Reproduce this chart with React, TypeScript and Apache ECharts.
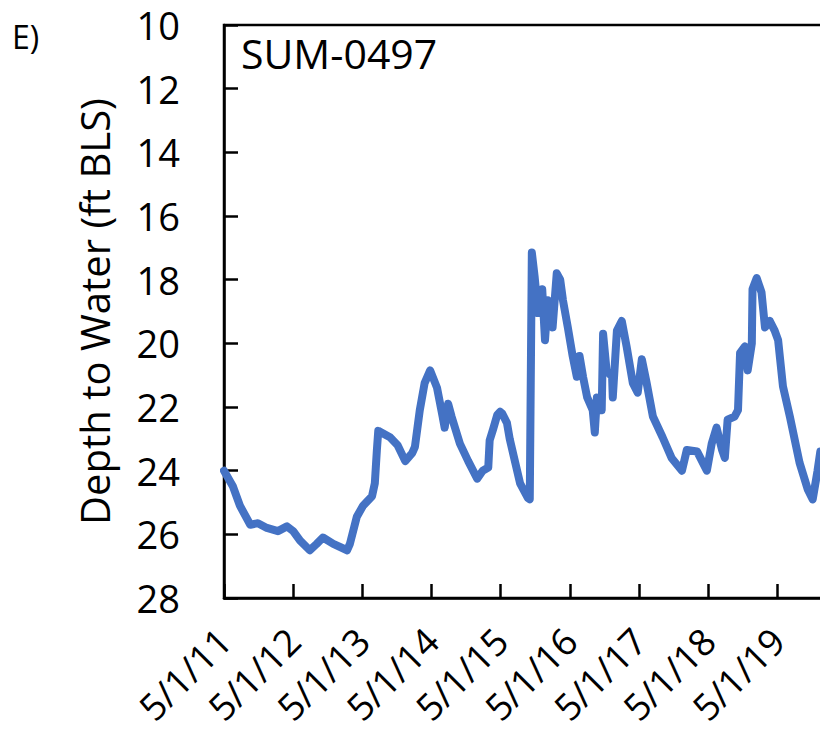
import React, { useEffect, useRef } from "react";
import * as echarts from "echarts";

// x: years since 5/1/2011 ; y: depth to water (ft below land surface)
const yearsSince = [
  0, 0.13, 0.23, 0.38, 0.49, 0.62, 0.78, 0.91, 1.0, 1.1, 1.24, 1.34, 1.43, 1.58, 1.78, 1.82,
  1.92, 2.01, 2.14, 2.18, 2.21, 2.23, 2.4, 2.51, 2.62, 2.72, 2.76, 2.83, 2.9, 2.98, 3.08,
  3.16, 3.19, 3.24, 3.29, 3.41, 3.53, 3.66, 3.74, 3.82, 3.84, 3.89, 3.95, 3.99, 4.02, 4.09,
  4.13, 4.21, 4.28, 4.39, 4.42, 4.45, 4.49, 4.54, 4.6, 4.64, 4.68, 4.75, 4.81, 4.86, 4.9,
  4.97, 5.04, 5.1, 5.14, 5.19, 5.25, 5.33, 5.36, 5.39, 5.46, 5.48, 5.53, 5.61, 5.62, 5.68,
  5.75, 5.82, 5.91, 5.98, 6.04, 6.11, 6.2, 6.34, 6.47, 6.62, 6.69, 6.84, 6.98, 7.05, 7.12,
  7.2, 7.24, 7.28, 7.38, 7.43, 7.46, 7.53, 7.57, 7.63, 7.64, 7.7, 7.77, 7.82, 7.89, 7.96,
  8.01, 8.08, 8.18, 8.32, 8.44, 8.51, 8.58, 8.62,
];
const depthFt = [
  24.0, 24.5, 25.1, 25.7, 25.65, 25.8, 25.9, 25.75, 25.9, 26.2, 26.5, 26.3, 26.1, 26.3, 26.5, 26.3,
  25.45, 25.1, 24.8, 24.4, 23.35, 22.75, 22.95, 23.2, 23.7, 23.45, 23.25, 22.1, 21.25, 20.85, 21.4,
  22.3, 22.65, 21.9, 22.3, 23.15, 23.7, 24.25, 24.0, 23.9, 23.05, 22.7, 22.25, 22.15, 22.2, 22.5,
  23.0, 23.75, 24.4, 24.85, 24.9, 17.15, 17.9, 19.05, 18.3, 19.9, 18.65, 19.5, 17.8, 18.0, 18.65,
  19.5, 20.4, 21.05, 20.4, 21.05, 21.7, 22.1, 22.8, 21.7, 22.1, 19.7, 20.85, 21.05, 21.7, 19.6,
  19.3, 20.1, 21.25, 21.55, 20.5, 21.25, 22.3, 22.95, 23.6, 24.0, 23.35, 23.4, 24.0, 23.15, 22.65,
  23.35, 23.6, 22.4, 22.3, 22.1, 20.3, 20.1, 20.85, 20.0, 18.3, 17.95, 18.4, 19.5, 19.3, 19.6,
  19.9, 21.35, 22.3, 23.75, 24.6, 24.9, 24.0, 23.4,
];
const xTickLabels = ["5/1/11", "5/1/12", "5/1/13", "5/1/14", "5/1/15", "5/1/16", "5/1/17", "5/1/18", "5/1/19"];
const wellName = "SUM-0497";
const panelLabel = "E)";
const yAxisTitle = "Depth to Water (ft BLS)";

const FONT = "'Open Sans', 'Noto Sans', sans-serif";

export default function App() {
  const ref = useRef<HTMLDivElement>(null);
  useEffect(() => {
    if (!ref.current) return;
    const chart = echarts.init(ref.current, undefined, { renderer: "svg" });
    const data = yearsSince.map((x, i) => [x, depthFt[i]]);
    chart.setOption({
      animation: false,
      textStyle: { fontFamily: FONT },
      grid: {
        left: 224,
        top: 25,
        right: 30,
        bottom: 142,
        show: true,
        borderColor: "#000",
        borderWidth: 2.5,
        containLabel: false,
        outerBoundsMode: "none",
      },
      xAxis: {
        type: "value",
        min: 0,
        max: 8.76,
        interval: 1,
        splitLine: { show: false },
        axisLine: { show: true, lineStyle: { color: "#000", width: 2.5 } },
        axisTick: { show: true, inside: true, length: 14, lineStyle: { color: "#000", width: 2.5 } },
        axisLabel: {
          rotate: 45,
          margin: 36,
          fontSize: 37,
          lineHeight: 36,
          color: "#000",
          fontFamily: FONT,
          showMaxLabel: false,
          formatter: (v: number) => {
            const r = Math.round(v);
            if (Math.abs(v - r) > 1e-6) return "";
            return xTickLabels[r] ?? "";
          },
        },
      },
      yAxis: {
        type: "value",
        inverse: true,
        min: 10,
        max: 28,
        interval: 2,
        splitLine: { show: false },
        axisLine: { show: true, lineStyle: { color: "#000", width: 2.5 } },
        axisTick: { show: true, inside: true, length: 14, lineStyle: { color: "#000", width: 2.5 } },
        axisLabel: { fontSize: 38, color: "#000", margin: 44, fontFamily: FONT },
        name: yAxisTitle,
        nameLocation: "middle",
        nameRotate: 90,
        nameGap: 110,
        nameTextStyle: { fontSize: 40, color: "#000", fontFamily: FONT },
      },
      graphic: [
        {
          type: "text",
          left: 241,
          top: 32,
          style: { text: wellName, fontSize: 41, fill: "#000", fontFamily: FONT },
        },
        {
          type: "text",
          left: 12,
          top: 20,
          style: { text: panelLabel, fontSize: 32, fill: "#000", fontFamily: FONT },
        },
      ],
      series: [
        {
          type: "line",
          data,
          showSymbol: false,
          lineStyle: { color: "#4472C4", width: 8, cap: "round", join: "round" },
          itemStyle: { color: "#4472C4" },
        },
      ],
    });
    return () => chart.dispose();
  }, []);
  return (
    <div style={{ position: "absolute", left: 0, top: 0, width: 820, height: 740, overflow: "hidden" }}>
      <div ref={ref} style={{ width: 860, height: 740 }} />
    </div>
  );
}
